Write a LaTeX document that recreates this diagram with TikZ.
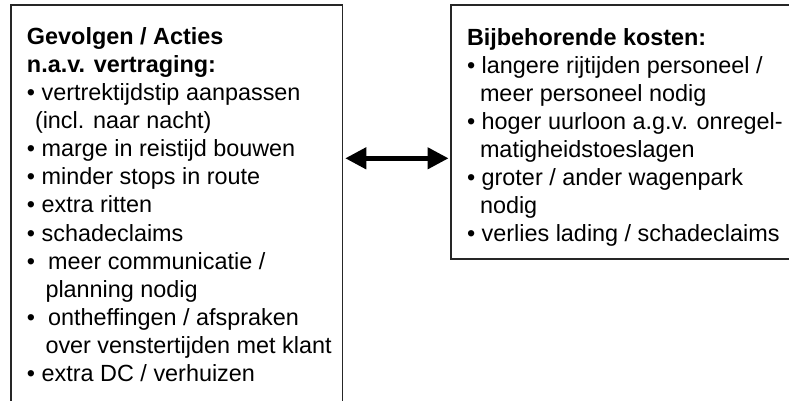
\documentclass[tikz,border=0pt]{standalone}
\usepackage{fontspec}
\setmainfont{Liberation Sans}
\usetikzlibrary{arrows.meta}
\begin{document}
\begin{tikzpicture}[x=1pt,y=-1pt,
  box/.style={draw=black!85, line width=1.3pt, anchor=north west,
    inner sep=0pt, outer sep=0pt},
  txt/.style={anchor=base west, inner sep=0pt, outer sep=0pt,
    font=\fontsize{23.4}{28}\selectfont},
  head/.style={txt, font=\fontsize{23.4}{28}\selectfont\bfseries},
  link/.style={line width=4.5pt, shorten <=3pt, shorten >=2.5pt,
    {Triangle[length=21pt,width=21pt]}-{Triangle[length=21pt,width=21pt]}}]
\useasboundingbox (0,0) rectangle (789,400);

% the two boxes (both run past the page edge on one side)
\node[box, minimum width=331.3pt, minimum height=397pt] (L) at (11,5) {};
\node[box, minimum width=340pt, minimum height=254pt] (R) at (451,5) {};

% left box: consequences / actions
\node[head] (l1)  at (27, 44.3)  {Gevolgen / Acties};
\node[head] (l2)  at (27, 72.4)  {n.a.v. vertraging:};
\node[txt]  (l3)  at (27,100.5)  {• vertrektijdstip aanpassen};
\node[txt]  (l4)  at (35,128.6)  {(incl. naar nacht)};
\node[txt]  (l5)  at (27,156.7)  {• marge in reistijd bouwen};
\node[txt]  (l6)  at (27,184.8)  {• minder stops in route};
\node[txt]  (l7)  at (27,212.9)  {• extra ritten};
\node[txt]  (l8)  at (27,241.0)  {• schadeclaims};
\node[txt]  (l9)  at (27,269.1)  {•~~meer communicatie /};
\node[txt]  (l10) at (45.5,297.2) {planning nodig};
\node[txt]  (l11) at (27,325.3)  {•~~ontheffingen / afspraken};
\node[txt]  (l12) at (45.5,353.4) {over venstertijden met klant};
\node[txt]  (l13) at (27,381.5)  {• extra DC / verhuizen};

% right box: related costs
\node[head] (r1) at (467, 45.0)  {Bijbehorende kosten:};
\node[txt]  (r2) at (467, 73.1)  {• langere rijtijden personeel /};
\node[txt]  (r3) at (480,101.2)  {meer personeel nodig};
\node[txt]  (r4) at (467,129.3)  {• hoger uurloon a.g.v. onregel-};
\node[txt]  (r5) at (480,157.4)  {matigheidstoeslagen};
\node[txt]  (r6) at (467,185.5)  {• groter / ander wagenpark};
\node[txt]  (r7) at (480,213.6)  {nodig};
\node[txt]  (r8) at (467,241.7)  {• verlies lading / schadeclaims};

% two-headed arrow between the boxes
\coordinate (ay) at (395,158.3);
\draw[link] (L.east |- ay) -- (R.west |- ay);
\end{tikzpicture}
\end{document}
